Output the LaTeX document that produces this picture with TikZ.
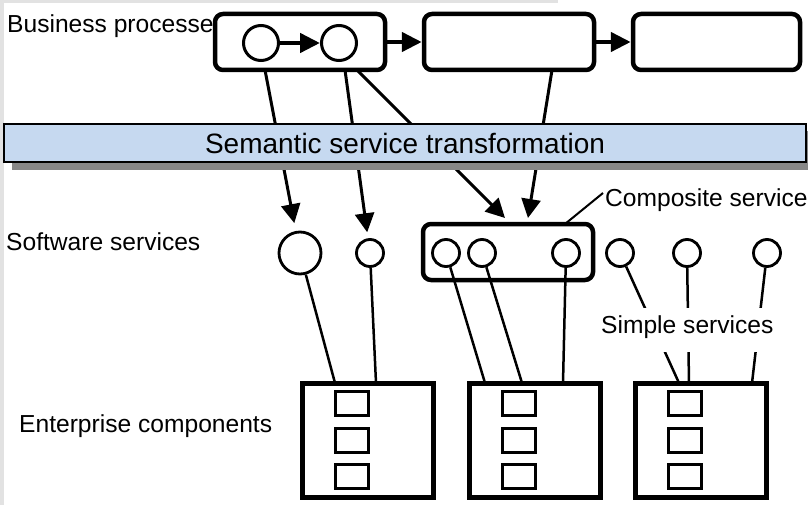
\documentclass[tikz,border=0pt]{standalone}
\usepackage{fontspec}
\setmainfont{Liberation Sans}
\usetikzlibrary{arrows.meta}

\definecolor{barblue}{RGB}{198,217,240}
\definecolor{shadowgrey}{RGB}{136,136,136}
\definecolor{edgegrey}{RGB}{226,226,226}

\begin{document}
\begin{tikzpicture}[x=1pt,y=-1pt,
  lbl/.style={font=\fontsize{24.6}{28}\selectfont, inner sep=0pt, anchor=base west},
  procbox/.style={draw, line width=4.5pt, rounded corners=8pt, fill=white,
    minimum width=170pt, minimum height=56pt, inner sep=0pt},
  compbox/.style={draw, line width=4.5pt, rounded corners=8pt,
    minimum width=170pt, minimum height=56pt, inner sep=0pt},
  entbox/.style={draw, line width=5pt, minimum width=131pt, minimum height=114pt, inner sep=0pt},
  part/.style={draw, line width=3pt, minimum width=33pt, minimum height=24pt, inner sep=0pt},
  svc/.style={circle, draw, line width=2.8pt, inner sep=0pt, minimum size=27pt},
  flow/.style={-{Triangle[length=20pt,width=19pt]}, line width=4.5pt},
  down/.style={-{Triangle[length=19pt,width=19pt]}, line width=3pt},
  link/.style={line width=2.5pt},
]
% page and thin grey frame strips
\fill[white] (0,0) rectangle (808,505);
\useasboundingbox (0,0) rectangle (808,505);
\clip (0,0) rectangle (808,505);
\fill[edgegrey] (0,0) rectangle (4,505);
\fill[edgegrey] (0,0) rectangle (558,3);

% row labels
\node[lbl] (lbp) at (7,33) {Business processe};
\node[lbl] (lss) at (6,250) {Software services};
\node[lbl] (lec) at (19,432) {Enterprise components};

% business process chain
\node[procbox] (bp1) at (300,42) {};
\node[procbox] (bp2) at (509,42) {};
\node[procbox, minimum width=167pt] (bp3) at (716.5,42) {};
\node[svc, minimum size=35pt, line width=3pt] (step1) at (261,43) {};
\node[svc, minimum size=35pt, line width=3pt] (step2) at (339,43) {};
\draw[flow] (step1) -- (step2);
\draw[flow] (bp1) -- (bp2);
\draw[flow] (bp2) -- (bp3);

% software services
\node[svc, minimum size=42pt] (sw1) at (300,253) {};
\node[svc] (sw2) at (370,253) {};
\node[compbox] (comp) at (508,252) {};
\node[svc] (cs1) at (446,253) {};
\node[svc] (cs2) at (482,253) {};
\node[svc] (cs3) at (566,253) {};
\node[svc] (ss1) at (620,253) {};
\node[svc] (ss2) at (687,253) {};
\node[svc] (ss3) at (767,253) {};

% mapping of process steps onto services
\coordinate (f1) at (265,70);
\coordinate (f2) at (345,70);
\coordinate (f3) at (357,70);
\coordinate (f4) at (552,70);
\coordinate (k3) at (505,218);
\coordinate (k4) at (528,218);
\draw[down, shorten >=8pt] (f1) -- (sw1);
\draw[down, shorten >=6pt] (f2) -- (sw2);
\draw[down] (f3) -- (k3);
\draw[down] (f4) -- (k4);

% transformation layer with drop shadow
\fill[shadowgrey] (12,131) rectangle (816,170);
\node[draw, line width=2.5pt, fill=barblue, minimum width=802pt, minimum height=38pt,
      inner sep=0pt, font=\fontsize{28}{32}\selectfont] (sst) at (405,143)
      {Semantic service transformation};

% composite service callout
\node[lbl] (lcs) at (605,207) {Composite service};
\coordinate (cstop) at (565,224);
\coordinate (csend) at (603,193);
\draw[line width=2pt] (cstop) -- (csend);

% enterprise components
\node[entbox] (ea) at (367.5,440) {};
\node[entbox] (eb) at (534.5,440) {};
\node[entbox] (ec) at (700.5,440) {};
\foreach \b/\x in {a/352, b/519, c/685}{
  \node[part] (part-\b1) at (\x,403) {};
  \node[part] (part-\b2) at (\x,440) {};
  \node[part] (part-\b3) at (\x,476) {};
}

% services implemented by components
\coordinate (ta1) at (335,383);
\coordinate (ta2) at (376,383);
\coordinate (tb1) at (485,383);
\coordinate (tb2) at (522,383);
\coordinate (tb3) at (563,383);
\coordinate (tc1) at (679,383);
\coordinate (tc2) at (689,383);
\coordinate (tc3) at (752,383);
\draw[link] (sw1) -- (ta1);
\draw[link] (sw2) -- (ta2);
\draw[link] (cs1) -- (tb1);
\draw[link] (cs2) -- (tb2);
\draw[link] (cs3) -- (tb3);
\draw[link] (ss1) -- (tc1);
\draw[link] (ss2) -- (tc2);
\draw[link] (ss3) -- (tc3);

% label laid over the simple-service links
\node[lbl, fill=white, inner xsep=2pt, text height=25pt, text depth=19pt] (lsi) at (599,333) {Simple services};
\end{tikzpicture}
\end{document}
